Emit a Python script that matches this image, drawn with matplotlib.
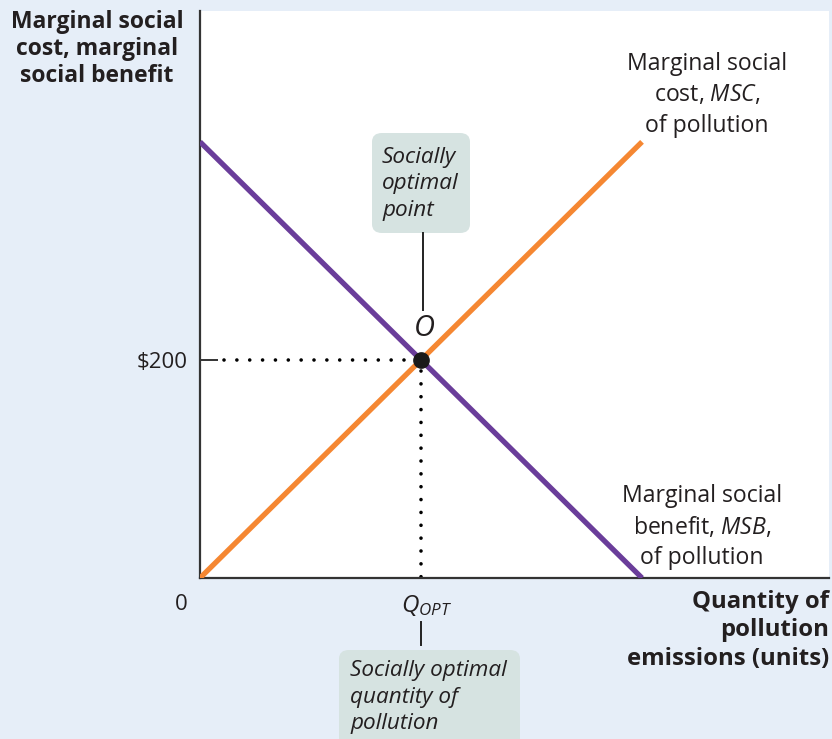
import matplotlib
matplotlib.use("Agg")
import matplotlib.pyplot as plt
from matplotlib.patches import FancyBboxPatch
from matplotlib.lines import Line2D

FONT = "Open Sans"
plt.rcParams['font.family'] = [FONT, 'DejaVu Sans']
plt.rcParams['mathtext.fontset'] = 'custom'
plt.rcParams['mathtext.rm'] = FONT
plt.rcParams['mathtext.it'] = FONT + ':italic'
plt.rcParams['mathtext.bf'] = FONT + ':bold'

# Data
quantity = [0, 200]
msb_values = [400, 0]
msc_values = [0, 400]
q_opt = 100
p_opt = 200
y_tick_labels = ["$200"]

BG = "#e6eef8"
PURPLE = "#6a3d9a"
ORANGE = "#f58732"
BOX = "#d6e3e1"
TXT = "#231f20"

W, H = 832, 739
fig = plt.figure(figsize=(W/100, H/100), dpi=100, facecolor=BG)
ax = fig.add_axes([200/W, 1-578/H, (829-200)/W, (578-11)/H])
ax.set_facecolor("white")
ax.set_xlim(0, 284.6)
ax.set_ylim(0, 520)

for s in ["top", "right"]:
    ax.spines[s].set_visible(False)
for s in ["left", "bottom"]:
    ax.spines[s].set_color("#333333")
    ax.spines[s].set_linewidth(1.6)

ax.plot(quantity, msb_values, color=PURPLE, lw=3.8, solid_capstyle="butt", zorder=3)
ax.plot(quantity, msc_values, color=ORANGE, lw=3.8, solid_capstyle="butt", zorder=3)

dot = dict(color="black", lw=2.6, linestyle=(0, (0.01, 3.55)), dash_capstyle="round", zorder=2)
ax.plot([11, q_opt - 5], [p_opt, p_opt], **dot)
ax.plot([q_opt, q_opt], [p_opt - 10, 0], **dot)
ax.plot([q_opt], [p_opt], marker="o", ms=11, color="#1a1a1a", zorder=5)

ax.set_yticks([p_opt])
ax.set_yticklabels(y_tick_labels, fontsize=16, color=TXT)
ax.tick_params(axis="y", direction="in", length=13, width=1.4, color="#333333", pad=9)
ax.set_xticks([])

def fx(px):
    return px / W

def fy(py):
    return 1 - py / H

tf = fig.transFigure

# Axis labels
fig.text(fx(97), fy(49), "Marginal social\ncost, marginal\nsocial benefit", ha="center", va="center",
         fontsize=16.5, fontweight="bold", color=TXT, linespacing=1.17)
fig.text(fx(829), fy(630), "Quantity of\npollution\nemissions (units)", ha="right", va="center",
         fontsize=17.2, fontweight="bold", color=TXT, linespacing=1.25)
fig.text(fx(181), fy(604), "0", ha="center", va="center", fontsize=16, color=TXT)
fig.text(fx(427), fy(606), r"$Q_{OPT}$", ha="center", va="center", fontsize=17.5, color=TXT)

# Curve labels
fig.text(fx(707), fy(95), "Marginal social\ncost, $\\mathit{MSC}$,\nof pollution", ha="center", va="center",
         fontsize=16.6, color=TXT, linespacing=1.37)
fig.text(fx(702), fy(527), "Marginal social\nbenefit, $\\mathit{MSB}$,\nof pollution", ha="center", va="center",
         fontsize=16.6, color=TXT, linespacing=1.37)

# O label
fig.text(fx(424), fy(328), "O", ha="center", va="center", fontsize=21, style="italic", color=TXT)

# Top callout box
fig.patches.append(FancyBboxPatch((fx(372), fy(233)), fx(470) - fx(372), fy(133) - fy(233),
                                  boxstyle="round,pad=0,rounding_size=0.012", transform=tf,
                                  fc=BOX, ec="none", zorder=1))
fig.text(fx(382), fy(184), "Socially\noptimal\npoint", ha="left", va="center", fontsize=16.2,
         style="italic", color=TXT, linespacing=1.35)
fig.add_artist(Line2D([fx(423), fx(423)], [fy(233), fy(310)], transform=tf, color="#222222", lw=1.4))

# Bottom callout box
fig.patches.append(FancyBboxPatch((fx(339), fy(760)), fx(520) - fx(339), fy(650) - fy(760),
                                  boxstyle="round,pad=0,rounding_size=0.012", transform=tf,
                                  fc=BOX, ec="none", zorder=1))
fig.text(fx(350), fy(697), "Socially optimal\nquantity of\npollution", ha="left", va="center", fontsize=16.2,
         style="italic", color=TXT, linespacing=1.35)
fig.add_artist(Line2D([fx(421), fx(421)], [fy(622), fy(645)], transform=tf, color="#222222", lw=1.4))

fig.savefig("out.png", dpi=100, facecolor=BG)
